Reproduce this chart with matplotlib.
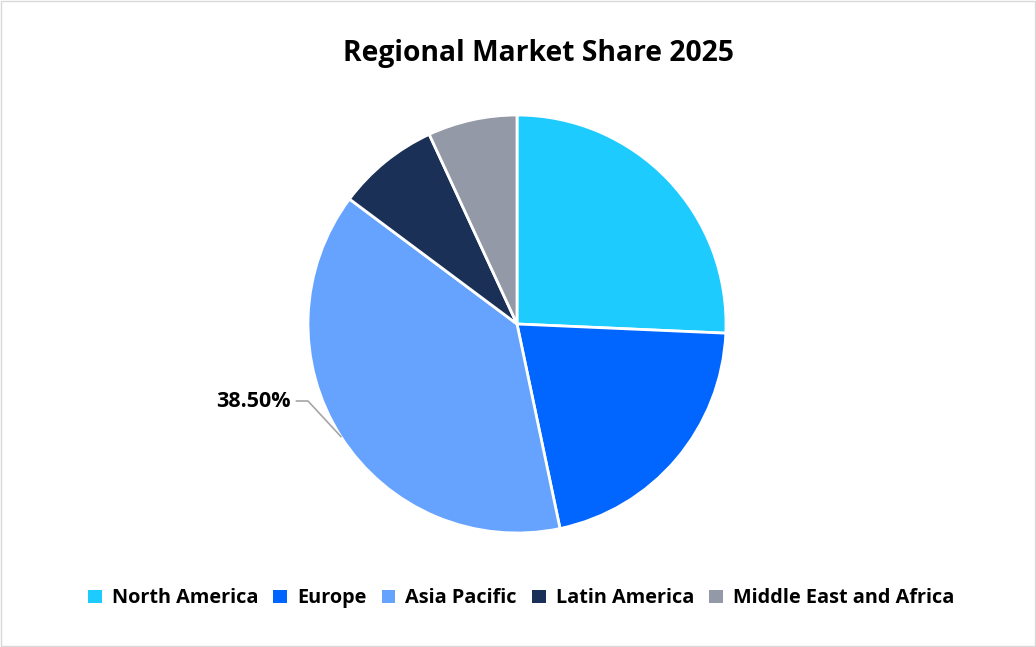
import matplotlib.pyplot as plt
import numpy as np
from matplotlib.patches import Rectangle

plt.rcParams['font.family'] = ['Open Sans', 'DejaVu Sans']

regions = ["North America", "Europe", "Asia Pacific", "Latin America", "Middle East and Africa"]
shares = [25.7, 21.0, 38.5, 7.9, 6.9]
colors = ["#1ECBFF", "#0066FF", "#66A3FF", "#1B3057", "#9399A6"]

fig = plt.figure(figsize=(10.36, 6.47), dpi=100)
fig.patches.append(Rectangle((0.0005, 0.0008), 0.999, 0.998, transform=fig.transFigure,
                             fill=False, edgecolor="#D9D9D9", linewidth=1))

ax = fig.add_axes([(517 - 209) / 1036, (647 - 533) / 647, 418 / 1036, 418 / 647])
wedges, _ = ax.pie(shares, colors=colors, startangle=90, counterclock=False,
                   wedgeprops=dict(edgecolor="white", linewidth=2))
ax.set_xlim(-1, 1)
ax.set_ylim(-1, 1)
ax.set_aspect("auto")

# label only the largest slice
w = wedges[2]
mid = np.deg2rad((w.theta1 + w.theta2) / 2)
x0, y0 = np.cos(mid), np.sin(mid)
ax.plot([x0, -1.0, -1.055], [y0, y0 + 0.17, y0 + 0.17], color="#A6A6A6", lw=1.2,
        clip_on=False)
ax.text(-1.085, y0 + 0.17, f"{shares[2]:.2f}%", ha="right", va="center",
        fontsize=15.5, fontweight="bold", color="black")

fig.text(0.52, 0.918, "Regional Market Share 2025", ha="center", va="center",
         fontsize=20.3, fontweight="bold")

leg = fig.legend(wedges, regions, loc="center", bbox_to_anchor=(0.503, 0.075), ncol=5,
                 frameon=False, handlelength=0.7, handleheight=0.7, handletextpad=0.5,
                 columnspacing=0.75, prop=dict(size=14.3, weight="bold"))
for h in leg.legend_handles:
    h.set_edgecolor("none")

fig.savefig("out.png", dpi=100)
